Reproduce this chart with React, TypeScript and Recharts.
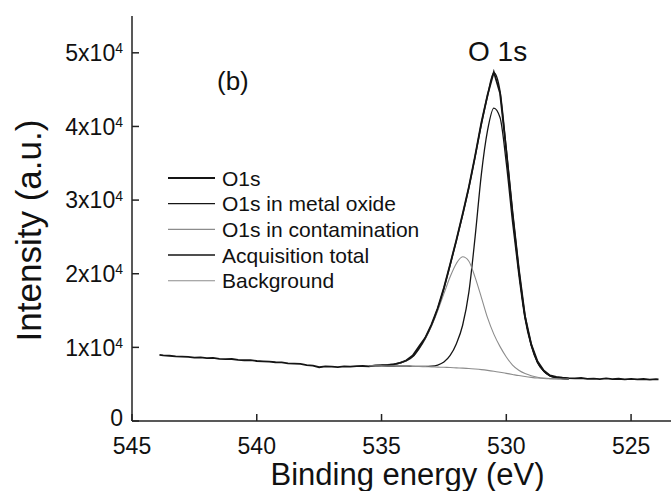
import React from 'react';
import { LineChart, Line, XAxis, YAxis, Label } from 'recharts';

// axis ticks
const xTicks = [545, 540, 535, 530, 525];
const xMinorTicks = [542.5, 537.5, 532.5, 527.5];
const yTicks = [0, 10000, 20000, 30000, 40000, 50000];
const yMinorTicks = [5000, 15000, 25000, 35000, 45000];

// measured O1s spectrum (binding energy in eV, counts)
const measuredEnergy = [
  543.9, 543.75, 543.5, 543.25, 543.0, 542.75, 542.5, 542.25, 542.0, 541.75,
  541.5, 541.25, 541.0, 540.75, 540.5, 540.25, 540.0, 539.75, 539.5, 539.25,
  539.0, 538.75, 538.5, 538.25, 538.0, 537.75, 537.5, 537.25, 537.0, 536.75,
  536.5, 536.25, 536.0, 535.75, 535.5, 535.25, 535.0, 534.75, 534.5, 534.25,
  534.0, 533.75, 533.5, 533.25, 533.0, 532.75, 532.5, 532.25, 532.0, 531.75,
  531.5, 531.25, 531.0, 530.75, 530.5, 530.25, 530.0, 529.75, 529.5, 529.25,
  529.0, 528.75, 528.5, 528.25, 528.0, 527.75, 527.5, 527.25, 527.0, 526.75,
  526.5, 526.25, 526.0, 525.75, 525.5, 525.25, 525.0, 524.75, 524.5, 524.25,
  524.0, 523.9,
];
const measuredCounts = [
  8980, 8900, 8860, 8790, 8740, 8700, 8600, 8640, 8530, 8560,
  8450, 8400, 8420, 8300, 8250, 8280, 8150, 8100, 8060, 7980,
  7950, 7830, 7800, 7760, 7600, 7520, 7300, 7420, 7380, 7330,
  7420, 7380, 7450, 7470, 7420, 7560, 7580, 7620, 7700, 7900,
  8250, 8900, 10100, 11300, 13100, 15300, 18100, 21300, 24600, 28100,
  31800, 36000, 40500, 44300, 47400, 44500, 36700, 28300, 20700, 14200,
  10400, 8100, 6850, 6200, 6000, 5900, 5820, 5780, 5840, 5720,
  5760, 5700, 5780, 5690, 5740, 5650, 5720, 5640, 5700, 5620,
  5680, 5660,
];

// fitted components
const fitEnergy = [
  535.5, 535.25, 535.0, 534.75, 534.5, 534.25, 534.0, 533.75, 533.5, 533.25,
  533.0, 532.75, 532.5, 532.25, 532.0, 531.75, 531.5, 531.25, 531.0, 530.75,
  530.5, 530.25, 530.0, 529.75, 529.5, 529.25, 529.0, 528.75, 528.5, 528.25,
  528.0, 527.75, 527.5,
];
const totalFit = [
  7500, 7520, 7560, 7620, 7720, 7900, 8200, 8750, 9850, 11250,
  13000, 15250, 18000, 21200, 24500, 28000, 31700, 35900, 40300, 44200,
  47300, 44700, 36800, 28200, 20600, 14300, 10400, 8000, 6800, 6150,
  5900, 5780, 5720,
];
const oxideFit = [
  7500, 7490, 7480, 7470, 7460, 7450, 7440, 7430, 7420, 7420,
  7450, 7600, 8000, 8900, 10500, 13000, 17500, 25000, 33500, 39500,
  42500, 41200, 35000, 27000, 19900, 13900, 10200, 7900, 6750, 6120,
  5880, 5770, 5710,
];
const contaminationFit = [
  7500, 7520, 7550, 7600, 7700, 7880, 8170, 8700, 9750, 11100,
  12850, 14950, 17300, 19600, 21400, 22300, 21700, 19500, 16800, 14000,
  11800, 10100, 8700, 7600, 6900, 6450, 6150, 5950, 5830, 5760,
  5730, 5710, 5700,
];
const backgroundFit = [
  7500, 7490, 7480, 7470, 7460, 7450, 7440, 7420, 7400, 7380,
  7350, 7320, 7290, 7260, 7220, 7180, 7130, 7060, 6980, 6880,
  6760, 6620, 6470, 6320, 6170, 6040, 5930, 5840, 5780, 5740,
  5720, 5710, 5700,
];

const seriesNames = ['O1s', 'O1s in metal oxide', 'O1s in contamination', 'Acquisition total', 'Background'];
const seriesColors = ['#151515', '#151515', '#8c8c8c', '#151515', '#8c8c8c'];
const seriesWidths = [1.8, 1.3, 1.1, 1.5, 1.1];

const measured = measuredEnergy.map((e, i) => ({ e, v: measuredCounts[i] }));
const fit = fitEnergy.map((e, i) => ({
  e,
  total: totalFit[i],
  oxide: oxideFit[i],
  contam: contaminationFit[i],
  bg: backgroundFit[i],
}));

const FONT = '"Liberation Sans", Arial, Helvetica, sans-serif';
const INK = '#111';

const YTick = (props: any) => {
  const { x, y, payload } = props;
  const v = payload.value;
  if (v === 0) {
    return (
      <text x={x} y={y} dy="0.22em" textAnchor="end" fontSize={23} fill={INK} fontFamily={FONT}>0</text>
    );
  }
  return (
    <text x={x} y={y} textAnchor="end" fontSize={23} fill={INK} fontFamily={FONT}>
      <tspan dy="0.36em">{`${v / 10000}x10`}</tspan>
      <tspan dy="-0.55em" fontSize={14}>4</tspan>
    </text>
  );
};

const yTitle = (props: any) => {
  const vb = props.viewBox;
  const cx = vb.x + 41;
  const cy = vb.y + vb.height / 2 + 12;
  return (
    <text x={cx} y={cy} transform={`rotate(-90, ${cx}, ${cy})`} textAnchor="middle" fontSize={35} fill={INK} fontFamily={FONT}>
      Intensity (a.u.)
    </text>
  );
};

const xTitle = (props: any) => {
  const vb = props.viewBox;
  return (
    <text x={vb.x + vb.width / 2 + 6} y={vb.y + vb.height - 6} textAnchor="middle" fontSize={31} fill={INK} fontFamily={FONT}>
      Binding energy (eV)
    </text>
  );
};

const tickStyle = { fontSize: 23, fill: INK, fontFamily: FONT };

export default function App() {
  return (
    <div style={{ position: 'absolute', left: 0, top: 0, width: 671, height: 491, background: '#fff', overflow: 'hidden' }}>
      <LineChart width={671} height={491} margin={{ top: 16, right: 0, bottom: 0, left: 0 }}>
        <XAxis
          xAxisId="main"
          type="number"
          dataKey="e"
          domain={[523.4, 545]}
          reversed
          allowDataOverflow
          ticks={xTicks}
          interval={0}
          height={70}
          tickSize={-7}
          tickMargin={24}
          stroke="#222"
          strokeWidth={1.5}
          tick={tickStyle}
        >
          <Label content={xTitle} />
        </XAxis>
        <XAxis
          xAxisId="minor"
          type="number"
          dataKey="e"
          domain={[523.4, 545]}
          reversed
          allowDataOverflow
          ticks={xMinorTicks}
          interval={0}
          mirror
          height={0}
          tickSize={4}
          axisLine={false}
          tick={false}
          stroke="#222"
          strokeWidth={1.3}
        />
        <XAxis
          xAxisId="top"
          orientation="top"
          type="number"
          dataKey="e"
          domain={[523.4, 545]}
          reversed
          height={0}
          tick={false}
          tickLine={false}
          stroke="#222"
          strokeWidth={1.5}
        />
        <YAxis
          yAxisId="main"
          type="number"
          domain={[0, 55000]}
          ticks={yTicks}
          interval={0}
          width={132}
          tickSize={-7}
          tickMargin={16}
          stroke="#222"
          strokeWidth={1.5}
          tick={<YTick />}
        >
          <Label content={yTitle} />
        </YAxis>
        <YAxis
          yAxisId="minor"
          type="number"
          domain={[0, 55000]}
          ticks={yMinorTicks}
          interval={0}
          mirror
          width={0}
          tickSize={4}
          axisLine={false}
          tick={false}
          stroke="#222"
          strokeWidth={1.3}
        />
        <Line xAxisId="main" yAxisId="main" data={measured} dataKey="v" name={seriesNames[0]} type="linear"
          stroke={seriesColors[0]} strokeWidth={seriesWidths[0]} dot={false} isAnimationActive={false} />
        <Line xAxisId="main" yAxisId="main" data={fit} dataKey="oxide" name={seriesNames[1]} type="monotone"
          stroke={seriesColors[1]} strokeWidth={seriesWidths[1]} dot={false} isAnimationActive={false} />
        <Line xAxisId="main" yAxisId="main" data={fit} dataKey="contam" name={seriesNames[2]} type="monotone"
          stroke={seriesColors[2]} strokeWidth={seriesWidths[2]} dot={false} isAnimationActive={false} />
        <Line xAxisId="main" yAxisId="main" data={fit} dataKey="total" name={seriesNames[3]} type="monotone"
          stroke={seriesColors[3]} strokeWidth={seriesWidths[3]} dot={false} isAnimationActive={false} />
        <Line xAxisId="main" yAxisId="main" data={fit} dataKey="bg" name={seriesNames[4]} type="monotone"
          stroke={seriesColors[4]} strokeWidth={seriesWidths[4]} dot={false} isAnimationActive={false} />
      </LineChart>
      <svg width={671} height={491} style={{ position: 'absolute', left: 0, top: 0, pointerEvents: 'none' }}>
        <text x={217} y={90} fontSize={26} fill={INK} fontFamily={FONT}>(b)</text>
        <text x={468} y={61} fontSize={28} fill={INK} fontFamily={FONT}>O 1s</text>
        {seriesNames.map((name, i) => {
          const cy = 178 + i * 25.7;
          return (
            <g key={name}>
              <line x1={168} x2={215} y1={cy} y2={cy} stroke={seriesColors[i]} strokeWidth={seriesWidths[i]} />
              <text x={222} y={cy + 7.5} fontSize={21} fill={INK} fontFamily={FONT}>{name}</text>
            </g>
          );
        })}
      </svg>
    </div>
  );
}
